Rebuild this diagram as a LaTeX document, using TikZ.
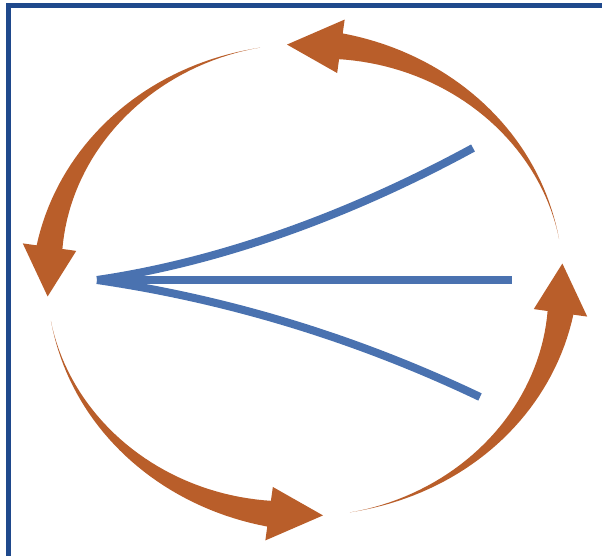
\documentclass[tikz,border=0pt]{standalone}
\usepackage{tikz}
\usetikzlibrary{calc}
\definecolor{framebl}{RGB}{31,73,140}
\definecolor{cycleor}{RGB}{185,94,42}
\definecolor{fanbl}{RGB}{74,114,176}
\tikzset{
  fanline/.style={draw=fanbl, line width=8pt},
  cyclearrow/.style={fill=cycleor},
}

\begin{document}
\begin{tikzpicture}[x=1pt, y=1pt]
  \useasboundingbox (0,0) rectangle (602,556);
  % frame (left and top edges only)
  \fill[framebl] (6,0) rectangle (11,553);
  \fill[framebl] (6,548) rectangle (602,553);

  % four tapered arrows round the circle, tails at 10, 100, 190, 280 deg
  \foreach \a in {10,100,190,280} {
    \pgfmathsetmacro{\aEnd}{\a+72}
    \pgfmathsetmacro{\aTip}{\a+84}
    \fill[cyclearrow] plot[domain=\a:\aEnd, samples=40]
        ({305+(258+13*((\x-\a)/72)*sqrt((\x-\a)/72))*cos(\x)}, {276+(236+13*((\x-\a)/72)*sqrt((\x-\a)/72))*sin(\x)})
      -- ({305+285*cos(\aEnd)}, {276+263*sin(\aEnd)})
      -- ({305+258*cos(\aTip)}, {276+236*sin(\aTip)})
      -- ({305+231*cos(\aEnd)}, {276+209*sin(\aEnd)})
      -- plot[domain=\aEnd:\a, samples=40]
        ({305+(258-13*((\x-\a)/72)*sqrt((\x-\a)/72))*cos(\x)}, {276+(236-13*((\x-\a)/72)*sqrt((\x-\a)/72))*sin(\x)})
      -- cycle;
  }

  % fan of three lines
  \coordinate (hub) at (97,276);
  \coordinate (upend) at (473,408);
  \coordinate (midend) at (512,276);
  \coordinate (lowend) at (480,159);
  \draw[fanline] (hub) .. controls (220,294) and (350,341) .. (upend);
  \draw[fanline] (hub) -- (midend);
  \draw[fanline] (hub) .. controls (220,258) and (350,221) .. (lowend);
\end{tikzpicture}
\end{document}
